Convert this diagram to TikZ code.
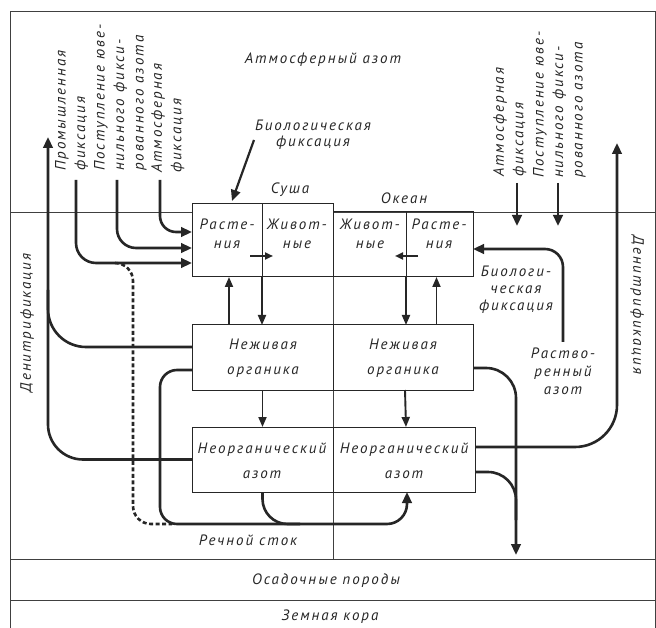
\documentclass[tikz,border=0pt]{standalone}
\usepackage{fontspec}
\setmainfont{PT Sans}[LetterSpace=13]
\usetikzlibrary{arrows.meta,calc}
\begin{document}
\begin{tikzpicture}[x=1pt,y=-1pt,
  lbl/.style={font=\itshape\fontsize{15}{19}\selectfont, inner sep=0pt, align=center, text=black!85},
  vlbl/.style={lbl, rotate=90, align=left, anchor=north west, font=\itshape\fontsize{15}{19.5}\selectfont},
  frameline/.style={line width=0.8pt, draw=black!75},
  cell/.style={draw=black!85, line width=1pt, anchor=north west, inner sep=0pt, outer sep=0pt},
  flow/.style={draw=black!85, line width=2.6pt},
  arr/.style={-{Triangle[length=11pt,width=9.5pt]}},
  thin/.style={draw=black!85, line width=1.9pt, -{Triangle[length=10pt,width=8pt]}},
  dsh/.style={flow, dash pattern=on 4pt off 2.5pt}
]
\useasboundingbox (0,0) rectangle (656,628);
\fill[white] (0,0) rectangle (656,628);

% frame and layers
\draw[frameline] (10,628) -- (10,11) -- (655,11) -- (655,628);
\draw[frameline] (10,212) -- (192,212);
\draw[frameline] (333,212) -- (655,212);
\draw[frameline] (10,559) -- (655,559);
\draw[frameline] (10,600) -- (655,600);
\draw[frameline, line width=1pt] (333,204) -- (333,559);

% boxes
\node[cell, minimum width=70, minimum height=73] (lp) at (192,204) {};
\node[cell, minimum width=71, minimum height=73] (la) at (262,204) {};
\node[cell, minimum width=73, minimum height=65] (oa) at (333,212) {};
\node[cell, minimum width=67, minimum height=65] (op) at (406,212) {};
\node[cell, minimum width=141, minimum height=65] (lo) at (192,325) {};
\node[cell, minimum width=140, minimum height=65] (oo) at (333,325) {};
\node[cell, minimum width=141, minimum height=65] (ln) at (192,427) {};
\node[cell, minimum width=142, minimum height=65] (on) at (333,427) {};

% box texts
\node[lbl] (tlp) at (227,234) {Расте-\\ния};
\node[lbl] (tla) at (297,234) {Живот-\\ные};
\node[lbl] (toa) at (370,234) {Живот-\\ные};
\node[lbl] (top) at (439,234) {Расте-\\ния};
\node[lbl, font=\itshape\fontsize{15}{25}\selectfont] (tlo) at (263,358) {Неживая\\органика};
\node[lbl, font=\itshape\fontsize{15}{25}\selectfont] (too) at (403,358) {Неживая\\органика};
\node[lbl, font=\itshape\fontsize{15}{25}\selectfont] (tln) at (262,461) {Неорганический\\азот};
\node[lbl, font=\itshape\fontsize{15}{25}\selectfont] (ton) at (404,461) {Неорганический\\азот};

% free labels
\node[lbl] (atm) at (323,60) {Атмосферный азот};
\node[lbl, font=\itshape\fontsize{15}{16.5}\selectfont] (bio) at (313,135) {Биологическая\\фиксация};
\node[lbl] (land) at (290,190) {Суша};
\node[lbl] (ocean) at (404,198) {Океан};
\node[lbl] (river) at (248,540) {Речной сток};
\node[lbl] (sedr) at (326,581) {Осадочные породы};
\node[lbl] (crust) at (330,617) {Земная кора};
\node[lbl, font=\itshape\fontsize{15}{17}\selectfont] (bio2) at (516,290) {Биологи-\\ческая\\фиксация};
\node[lbl, font=\itshape\fontsize{15}{18}\selectfont] (diss) at (563,371) {Раство-\\ренный\\азот};
\node[lbl, rotate=90] (denl) at (27,323) {Денитрификация};
\node[lbl, rotate=-90] (denr) at (637,305) {Денитрификация};

\node[vlbl] (v1) at (55,171) {Промышленная\\фиксация};
\node[vlbl] (v2) at (94,171) {Поступление юве-\\нильного фикси-\\рованного азота};
\node[vlbl] (v3) at (151,173) {Атмосферная\\фиксация};
\node[vlbl] (v4) at (493,177) {Атмосферная\\фиксация};
\node[vlbl] (v5) at (533,178) {Поступление юве-\\нильного фикси-\\рованного азота};

% coordinates
\coordinate (ind) at (76,180);
\coordinate (juv) at (117,180);
\coordinate (atf) at (160,180);
\coordinate (lpi) at ([yshift=-22.5pt]lp.west);
\coordinate (lpj) at ([yshift=-7.5pt]lp.west);
\coordinate (lpa) at ([yshift=8.5pt]lp.west);
\coordinate (dl) at (48,137);
\coordinate (dlj) at (48,290);
\coordinate (rbl) at (160,524);
\coordinate (dsa) at (115,263);
\coordinate (dsb) at (133,263);
\coordinate (dsc) at (133,524);
\coordinate (dsd) at (172,524);
\coordinate (rje) at (300,524);
\coordinate (onr) at ([xshift=3pt]on.south);
\coordinate (rdn) at (563,342);
\coordinate (opb) at ([yshift=-4.5pt]op.east);
\coordinate (sed) at (516,555);
\coordinate (oob) at ([yshift=-10.5pt]oo.east);
\coordinate (onl) at ([yshift=-12.5pt]on.east);
\coordinate (j2) at (516,520);
\coordinate (onu) at ([yshift=12.5pt]on.east);
\coordinate (dr) at (617,143);
\coordinate (ra1) at (517,183);
\coordinate (ra1e) at (517,226);
\coordinate (ra2) at (558,183);
\coordinate (ra2e) at (558,226);
\coordinate (bfs) at (254,140);
\coordinate (lowl) at ([yshift=10.5pt]lo.west);
\coordinate (lowr) at ([yshift=-12.5pt]lo.west);

% left inputs
\draw[flow, arr, rounded corners=20] (ind) -- (ind |- lpi) -- (lpi);
\draw[flow, arr, rounded corners=19] (juv) -- (juv |- lpj) -- (lpj);
\draw[flow, arr, rounded corners=16] (atf) -- (atf |- lpa) -- (lpa);
\draw[dsh, rounded corners=18] (dsa) -- (dsb) -- (dsc) -- (dsd);

% left denitrification
\draw[flow, arr, rounded corners=35] (ln.west) -- (ln.west -| dl) -- (dl);
\draw[flow, rounded corners=38] (lowl) -- (lowl -| dl) -- (dlj);

% river runoff
\draw[flow, arr, rounded corners=17] (lowr) -- (lowr -| rbl) -- (rbl) [rounded corners=20] -- (rbl -| onr) -- (onr);
\draw[flow, rounded corners=25] (ln.south) -- (ln.south |- rbl) -- (rje);

% biological fixation land
\draw[flow, line width=2.2pt, arr] (bfs) -- ([shift={(5pt,3pt)}]lp.north);

% right side
\draw[flow, arr, rounded corners=18] (rdn) -- (rdn |- opb) -- (opb);
\draw[flow, arr, rounded corners=30] (oob) -- (oob -| sed) -- (sed);
\draw[flow, rounded corners=28] (onl) -- (onl -| sed) -- (j2);
\draw[flow, arr, rounded corners=42] (onu) -- (onu -| dr) -- (dr);
\draw[flow, arr] (ra1) -- (ra1e);
\draw[flow, arr] (ra2) -- (ra2e);

% internal arrows
\draw[thin, -{Triangle[length=8pt,width=7pt]}, line width=2.4pt] ([shift={(-12pt,-15.5pt)}]lp.east) -- ([shift={(11pt,-15.5pt)}]la.west);
\draw[thin, -{Triangle[length=8pt,width=7pt]}, line width=2.4pt] ([shift={(12pt,-11.5pt)}]op.west) -- ([shift={(-11pt,-11.5pt)}]oa.east);
\draw[thin] ([xshift=2pt]lo.north -| lp.south) -- ([xshift=2pt]lp.south);
\draw[thin] (la.south west) -- (la.south west |- lo.north);
\draw[thin] (oa.south east) -- (oa.south east |- oo.north);
\draw[thin] ([xshift=-3pt]oo.north -| op.south) -- ([xshift=-3pt]op.south);
\draw[thin] (lo.south) -- (ln.north);
\draw[thin] ([xshift=2pt]oo.south) -- ([xshift=2pt]on.north);
\end{tikzpicture}
\end{document}
